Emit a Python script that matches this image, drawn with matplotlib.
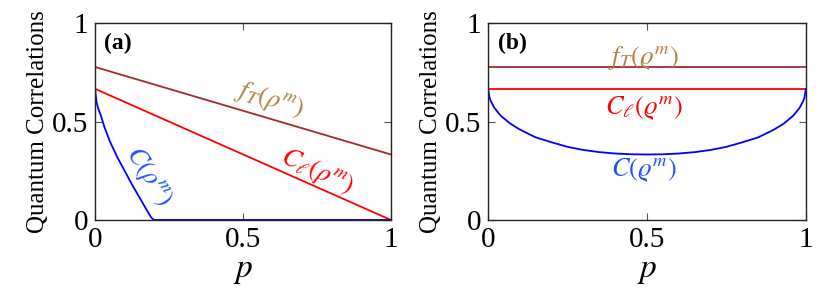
import matplotlib
matplotlib.use("Agg")
import matplotlib.pyplot as plt

plt.rcParams['font.family'] = ['Liberation Serif', 'DejaVu Serif']
plt.rcParams['mathtext.fontset'] = 'stix'

# panel (a): mixing with noise
p_a = [0, 1]
fT_a = [0.778, 0.333]
Cl_a = [0.667, 0.0]
p_c_a = [0, 0.005, 0.01, 0.02, 0.03, 0.05, 0.075, 0.1, 0.125, 0.15, 0.175, 0.19, 0.2, 1.0]
C_a = [0.667, 0.60, 0.57, 0.53, 0.48, 0.40, 0.32, 0.25, 0.18, 0.115, 0.05, 0.012, 0.0, 0.0]

# panel (b)
p_b = [0, 1]
fT_b = [0.778, 0.778]
Cl_b = [0.667, 0.667]
p_c_b = [0, 0.005, 0.01, 0.02, 0.04, 0.07, 0.1, 0.15, 0.2, 0.25, 0.3, 0.35, 0.4, 0.45, 0.5,
         0.55, 0.6, 0.65, 0.7, 0.75, 0.8, 0.85, 0.9, 0.93, 0.96, 0.98, 0.99, 0.995, 1.0]
C_b = [0.667, 0.62, 0.60, 0.57, 0.53, 0.49, 0.46, 0.42, 0.395, 0.372, 0.356, 0.345, 0.338, 0.334, 0.333,
       0.334, 0.338, 0.345, 0.356, 0.372, 0.395, 0.42, 0.46, 0.49, 0.53, 0.57, 0.60, 0.62, 0.667]

ticks = [0, 0.5, 1]
tick_labels = ['0', '0.5', '1']

brown = '#a52a2a'
tan = '#b07d45'
red = '#ff0000'
blue = '#0000ff'
blue_txt = '#1f4fff'
serif = 'Liberation Serif'

fig = plt.figure(figsize=(8.3, 3.03), dpi=100)
ax1 = fig.add_axes([0.1145, 0.274, 0.3565, 0.649])
ax2 = fig.add_axes([0.588, 0.274, 0.383, 0.649])

ax1.plot(p_a, fT_a, color=brown, lw=1.3)
ax1.plot(p_a, Cl_a, color=red, lw=1.3)
ax1.plot(p_c_a, C_a, color=blue, lw=1.3)

ax2.plot(p_b, fT_b, color=brown, lw=1.3)
ax2.plot(p_b, Cl_b, color=red, lw=1.3)
ax2.plot(p_c_b, C_b, color=blue, lw=1.3)

ax1.text(0.59, 0.61, r'$f_T(\rho^m)$', color=tan, fontsize=19, rotation=-17,
         ha='center', va='center')
ax1.text(0.75, 0.245, r'$C_\ell(\rho^m)$', color=red, fontsize=19, rotation=-24,
         ha='center', va='center')
ax1.text(0.18, 0.22, r'$C(\rho^m)$', color=blue_txt, fontsize=19, rotation=-57,
         ha='center', va='center')
ax1.text(0.03, 0.9, '(a)', transform=ax1.transAxes, fontsize=17, fontweight='bold',
         ha='left', va='center', family=serif)

ax2.text(0.49, 0.825, r'$f_T(\varrho^m)$', color=tan, fontsize=19, ha='center', va='center')
ax2.text(0.49, 0.57, r'$C_\ell(\varrho^m)$', color=red, fontsize=19, ha='center', va='center')
ax2.text(0.49, 0.255, r'$C(\varrho^m)$', color=blue_txt, fontsize=19, ha='center', va='center')
ax2.text(0.03, 0.9, '(b)', transform=ax2.transAxes, fontsize=17, fontweight='bold',
         ha='left', va='center', family=serif)

for ax in (ax1, ax2):
    ax.set_xlim(0, 1)
    ax.set_ylim(0, 1)
    ax.set_xticks(ticks)
    ax.set_yticks(ticks)
    ax.set_xticklabels(tick_labels, family=serif, fontsize=21)
    ax.set_yticklabels(tick_labels, family=serif, fontsize=21)
    ax.tick_params(direction='in', top=True, right=True, length=5,
                   color='#555555', pad=5)
    for s in ax.spines.values():
        s.set_linewidth(1.0)
        s.set_color('#222222')
    ax.set_xlabel(r'$p$', fontsize=24, labelpad=2)
    ax.set_ylabel('Quantum Correlations', fontsize=18, labelpad=2, family=serif)

fig.savefig('out.png', dpi=100)
